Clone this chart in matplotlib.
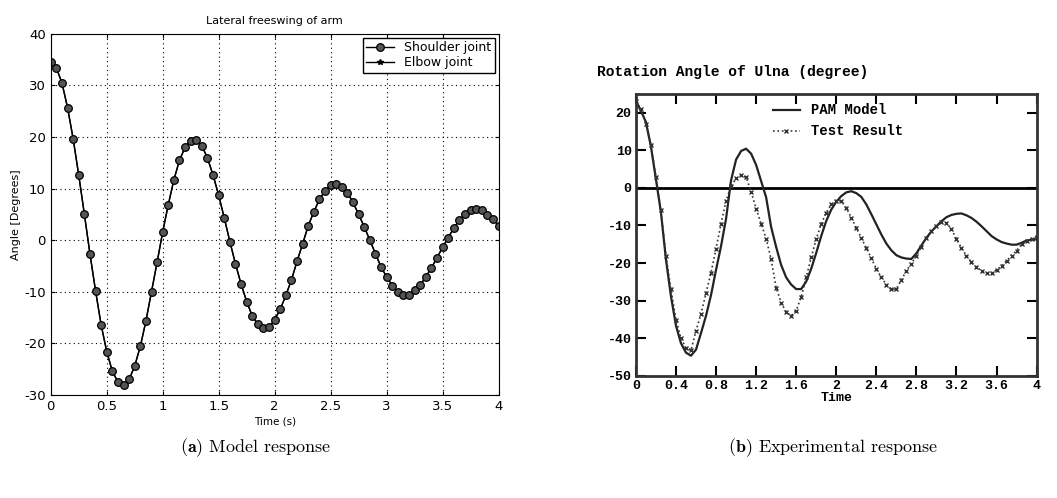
import numpy as np
import matplotlib
matplotlib.use("Agg")
import matplotlib.pyplot as plt

plt.rcParams['axes.unicode_minus'] = False
plt.rcParams['mathtext.fontset'] = 'cm'

# (a) model response, samples every 0.05 s
t_model = np.arange(0, 81) * 0.05
shoulder = [34.6, 33.4, 30.5, 25.7, 19.7, 12.6, 5.1, -2.6, -9.8, -16.4,
            -21.6, -25.4, -27.5, -28.0, -27.0, -24.4, -20.6, -15.7, -10.0, -4.3,
            1.6, 6.9, 11.7, 15.5, 18.0, 19.3, 19.5, 18.3, 15.9, 12.6,
            8.7, 4.3, -0.3, -4.6, -8.5, -11.9, -14.7, -16.3, -17.0, -16.9,
            -15.4, -13.4, -10.7, -7.7, -4.1, -0.7, 2.8, 5.5, 7.9, 9.6,
            10.6, 10.8, 10.4, 9.2, 7.3, 5.0, 2.6, 0.0, -2.6, -5.2,
            -7.1, -8.8, -10.0, -10.6, -10.6, -9.7, -8.7, -7.1, -5.4, -3.4,
            -1.4, 0.5, 2.3, 3.9, 5.1, 5.9, 6.0, 5.8, 4.9, 4.1,
            2.8]
elbow = list(shoulder)  # hidden under the shoulder curve

# (b) experimental response, every 0.05 s
t_exp = np.arange(0, 81) * 0.05
pam_model = [23.0, 20.5, 17.5, 11.0, 2.3, -6.5, -19.0, -28.8, -36.6, -41.3,
             -43.8, -44.6, -43.0, -38.6, -34.0, -28.5, -21.8, -15.5, -8.2, 2.0,
             7.5, 9.8, 10.4, 9.1, 6.1, 1.8, -2.5, -10.4, -15.7, -20.5,
             -23.8, -25.7, -26.9, -26.9, -24.9, -21.5, -17.3, -12.8, -8.8, -5.8,
             -3.7, -2.2, -1.2, -0.9, -1.4, -2.4, -4.4, -7.0, -9.7, -12.4,
             -14.8, -16.6, -17.9, -18.5, -18.8, -18.9, -17.4, -15.3, -13.3, -11.6,
             -10.2, -8.9, -7.8, -7.2, -6.9, -6.8, -7.3, -8.0, -9.0, -10.2,
             -11.5, -12.8, -13.7, -14.4, -14.8, -15.1, -15.1, -14.6, -14.0, -13.8,
             -13.7]
test_result = [23.0, 21.0, 17.0, 11.5, 3.0, -6.0, -18.0, -27.0, -35.0, -40.0,
               -42.5, -43.2, -38.0, -33.5, -28.0, -22.5, -16.2, -9.5, -3.5, 0.5,
               2.5, 3.3, 2.8, -1.0, -5.5, -9.5, -13.5, -19.0, -26.5, -30.5,
               -33.0, -34.0, -32.6, -29.0, -23.8, -18.5, -13.6, -9.6, -6.6, -4.4,
               -3.4, -3.5, -5.3, -7.9, -10.6, -13.3, -16.0, -18.7, -21.5, -23.8,
               -25.7, -27.0, -26.8, -24.5, -22.0, -20.2, -18.0, -15.6, -13.2, -11.6,
               -10.1, -9.2, -9.3, -11.0, -13.6, -16.0, -18.0, -19.8, -21.1, -22.0,
               -22.6, -22.6, -21.8, -20.8, -19.4, -18.0, -16.7, -15.0, -14.2, -13.5,
               -13.0]

fig = plt.figure(figsize=(10.57, 4.98), dpi=100)

# ---- left panel
ax1 = fig.add_axes([0.048, 0.207, 0.4237, 0.7251])
ax1.plot(t_model, elbow, '-*', color='black', lw=1.0, ms=4, label='Elbow joint')
ax1.plot(t_model, shoulder, '-o', color='black', lw=1.0, ms=5.5,
         mfc='#555555', mec='black', mew=0.9, label='Shoulder joint')
ax1.set_xlim(0, 4)
ax1.set_ylim(-30, 40)
ax1.set_xticks(np.arange(0, 4.01, 0.5))
ax1.set_xticklabels(['0', '0.5', '1', '1.5', '2', '2.5', '3', '3.5', '4'])
ax1.set_yticks(np.arange(-30, 41, 10))
ax1.grid(True, linestyle=(0, (1, 3)), color='black', lw=0.8)
ax1.tick_params(direction='in', length=3, labelsize=9.5, top=True, right=True)
ax1.set_title('Lateral freeswing of arm', fontsize=8, pad=7)
ax1.set_xlabel('Time (s)', fontsize=7.5, labelpad=3)
ax1.set_ylabel('Angle [Degrees]', fontsize=8, labelpad=2)
h, l = ax1.get_legend_handles_labels()
ax1.legend(h[::-1], l[::-1], loc='upper right', fontsize=9, fancybox=False,
           edgecolor='black', framealpha=1, handlelength=2.2,
           borderaxespad=0.3, labelspacing=0.15, borderpad=0.3)

# ---- right panel
mono = 'Liberation Mono'
ax2 = fig.add_axes([0.6016, 0.245, 0.3791, 0.5667])
ax2.axhline(0, color='black', lw=2)
ax2.plot(t_exp, pam_model, '-', color='#222222', lw=1.6, label='PAM Model')
ax2.plot(t_exp, test_result, ':', color='#333333', lw=1.2, marker='x', ms=2.5,
         mew=1.0, label='Test Result')
ax2.set_xlim(0, 4)
ax2.set_ylim(-50, 25)
ax2.set_xticks(np.arange(0, 4.01, 0.4))
ax2.set_xticklabels(['0', '0.4', '0.8', '1.2', '1.6', '2', '2.4', '2.8', '3.2', '3.6', '4'])
ax2.set_yticks(np.arange(-50, 21, 10))
ax2.tick_params(direction='in', length=7, width=1.5, top=True, right=True,
                labelsize=9.5, pad=3)
for lab in ax2.get_xticklabels() + ax2.get_yticklabels():
    lab.set_fontfamily(mono)
    lab.set_fontweight('bold')
for s in ax2.spines.values():
    s.set_linewidth(2)
    s.set_color('#333333')
fig.text(0.565, 0.855, 'Rotation Angle of Ulna (degree)', fontsize=10.5,
         family=mono, fontweight='bold', va='center')
ax2.set_xlabel('Time', fontsize=9.5, family=mono, fontweight='bold', labelpad=0)
ax2.legend(loc='upper left', bbox_to_anchor=(0.31, 1.01), frameon=False,
           prop={'family': mono, 'weight': 'bold', 'size': 10},
           handlelength=2.0, labelspacing=0.5, markerscale=1.3)

# ---- captions
fig.text(0.242, 0.102, r'$\mathbf{(a)}$ Model response', ha='center', va='center',
         fontsize=13, family='cmr10')
fig.text(0.788, 0.102, r'$\mathbf{(b)}$ Experimental response', ha='center', va='center',
         fontsize=13, family='cmr10')

fig.savefig('out.png', dpi=100)
